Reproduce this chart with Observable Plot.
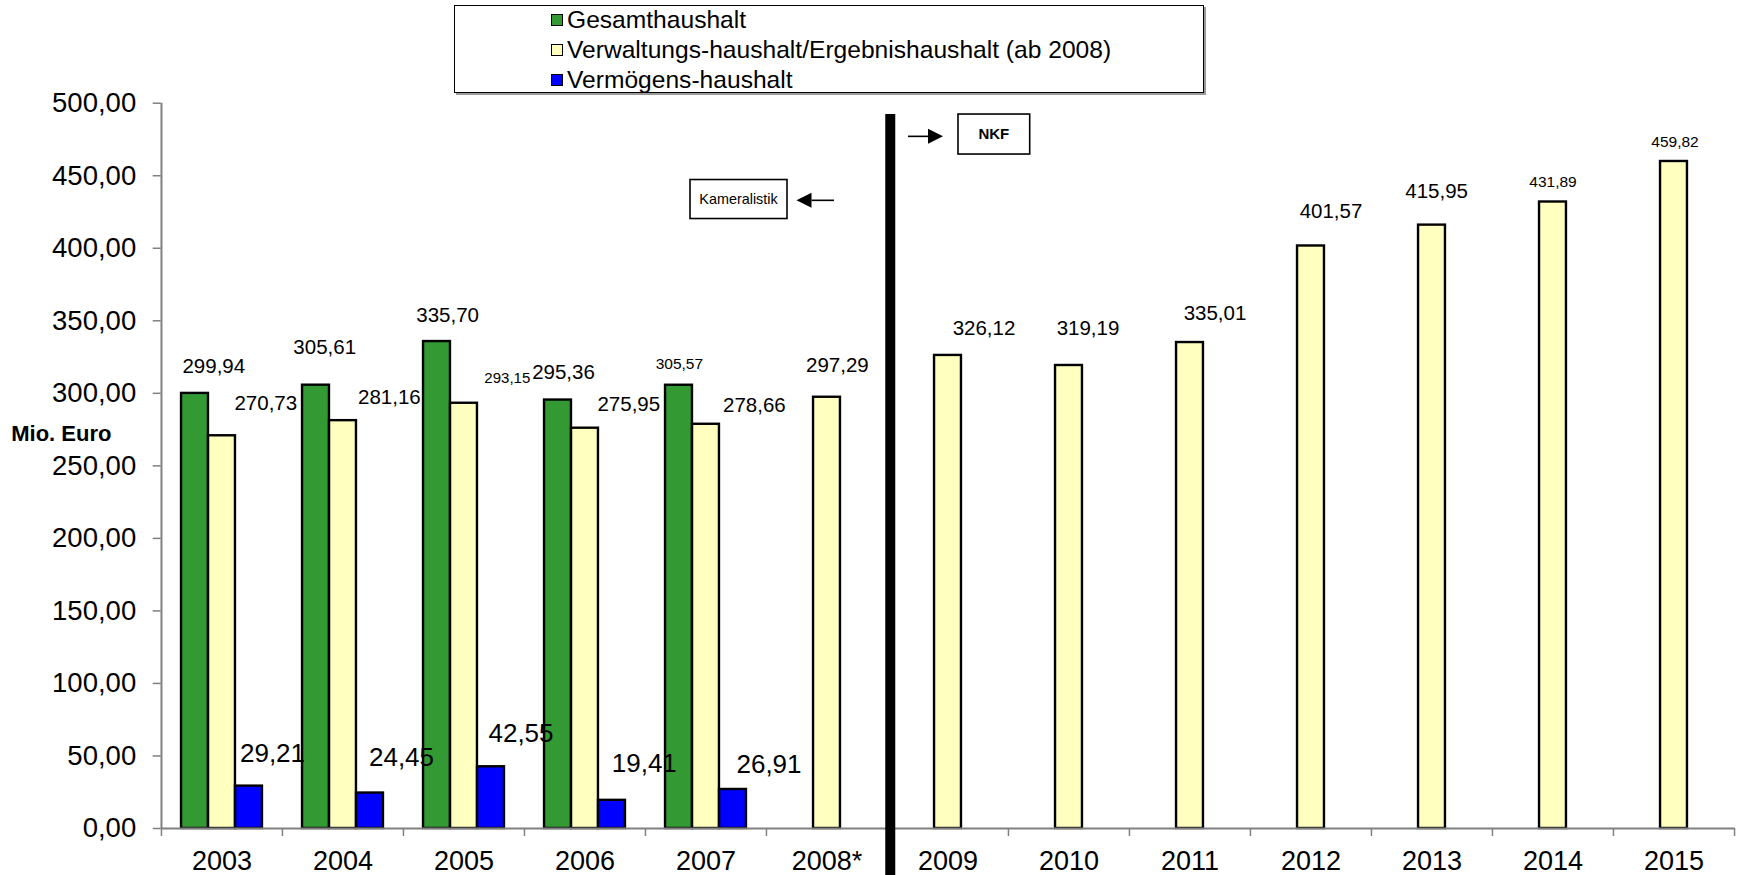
<!DOCTYPE html>
<html lang="de">
<head>
<meta charset="utf-8">
<script src="https://cdn.jsdelivr.net/npm/d3@7"></script>
<script src="https://cdn.jsdelivr.net/npm/@observablehq/plot@0.6"></script>
<style>
  html, body { margin: 0; padding: 0; background: #fff; }
  #wrap { position: relative; width: 1737px; height: 875px; font-family: "Liberation Sans", Arial, sans-serif; }
  #legend { position: absolute; left: 454px; top: 5px; width: 750px; height: 88px;
            border: 1px solid #000; background: #fff; box-shadow: 2px 2px 0 #9a9a9a; box-sizing: border-box; }
  .row { position: absolute; left: 96px; height: 28px; display: flex; align-items: center; font-size: 24.6px; white-space: nowrap; color: #000; }
  .sw { width: 10px; height: 10px; border: 1.5px solid #000; margin-right: 4px; }
</style>
</head>
<body>
<div id="wrap"></div>
<script>
// Haushaltsvolumen in Mio. Euro
const years = ["2003", "2004", "2005", "2006", "2007", "2008*", "2009", "2010", "2011", "2012", "2013", "2014", "2015"];
const seriesNames = ["Gesamthaushalt", "Verwaltungs-haushalt/Ergebnishaushalt (ab 2008)", "Vermögens-haushalt"];
const seriesColors = ["#339933", "#ffffc0", "#0000ff"];

// Gesamt- und Vermögenshaushalt gibt es nur bis 2007 (Kameralistik)
const gesamtYears = ["2003", "2004", "2005", "2006", "2007"];
const gesamt = [299.94, 305.61, 335.70, 295.36, 305.57];
const verwaltung = [270.73, 281.16, 293.15, 275.95, 278.66, 297.29, 326.12, 319.19, 335.01, 401.57, 415.95, 431.89, 459.82];
const vermoegenYears = ["2003", "2004", "2005", "2006", "2007"];
const vermoegen = [29.21, 24.45, 42.55, 19.41, 26.91];

const yTicks = d3.range(0, 501, 50);

// Frame
const W = 1737, H = 875;
const ML = 160.7, MR = 2.3, MT = 102.7, MB = 47;
const step = (W - ML - MR) / years.length;
const barW = 27;
const inset = (step - barW) / 2;
const pxPerUnit = (H - MT - MB) / 500;

const fmt = v => v.toFixed(2).replace(".", ",");

const rows = (xs, vs, s) => xs.map((x, i) => ({year: x, value: vs[i], series: s}));
const gData = rows(gesamtYears, gesamt, 0);
const vData = rows(years, verwaltung, 1);
const bData = rows(vermoegenYears, vermoegen, 2);

// Placement of the value labels: [dx from bar centre, dy from bar top, font size]
const labelPlacement = [
  [[18.8, -27.3, 20.5], [8.7, -37.4, 20.5], [10.6, -26, 20.5], [5.5, -27.8, 20.5], [0.4, -21.4, 15.5]],
  [[43.8, -32, 20.5], [46.4, -22.8, 20.5], [43.3, -25.5, 15], [43.8, -23.7, 20.5], [48.4, -18.8, 20.5],
   [10.4, -31.8, 20.5], [36, -27, 20.5], [19, -37, 20.5], [25, -29, 20.5], [20, -34.5, 20.5],
   [4.6, -34, 20.5], [0, -19.5, 15.5], [1, -19.3, 15.5]],
  [[23.5, -32.3, 26], [31.5, -35.8, 26], [30, -33, 26], [32.3, -36.5, 26], [36, -25, 26]]
];
const seriesShift = [-barW, 0, barW];

const bars = [gData, vData, bData].map((data, s) =>
  Plot.barY(data, {
    x: "year", y: "value", dx: seriesShift[s],
    insetLeft: inset, insetRight: inset,
    fill: seriesColors[s], stroke: "#000", strokeWidth: 2.4
  })
);

const labels = [gData, vData, bData].flatMap((data, s) =>
  data.map((d, i) => {
    const [dx, dy, size] = labelPlacement[s][i];
    return Plot.text([d], {
      x: "year", y: "value", text: d => fmt(d.value),
      dx: seriesShift[s] + dx, dy, fontSize: size, fill: "#000"
    });
  })
);

const axisGray = "#808080";
const tickUnits = 8 / pxPerUnit;

const plot = Plot.plot({
  width: W, height: H,
  marginLeft: ML, marginRight: MR, marginTop: MT, marginBottom: MB,
  style: {fontFamily: "'Liberation Sans', Arial, sans-serif", background: "#fff", overflow: "visible"},
  x: {type: "band", domain: years, padding: 0, axis: null},
  y: {domain: [0, 500], axis: null},
  marks: [
    ...bars,
    // axes
    Plot.ruleY([0], {stroke: axisGray, strokeWidth: 2}),
    Plot.ruleX([years[0]], {x: d => d, dx: -step / 2, y1: 0, y2: 500, stroke: axisGray, strokeWidth: 2}),
    Plot.ruleX(years, {x: d => d, dx: -step / 2, y1: 0, y2: -tickUnits, stroke: axisGray, strokeWidth: 1.5}),
    Plot.ruleX([years[years.length - 1]], {x: d => d, dx: step / 2, y1: 0, y2: -tickUnits, stroke: axisGray, strokeWidth: 1.5}),
    Plot.axisY({ticks: yTicks, tickFormat: fmt, tickSize: 8, tickPadding: 17, fontSize: 27.5,
                stroke: axisGray, strokeWidth: 1.5, fill: "#000", label: null}),
    Plot.axisX({tickSize: 0, tickPadding: 22, fontSize: 27, fill: "#000", label: null}),
    Plot.text(["Mio. Euro"], {frameAnchor: "left", y: 272.3, dx: -150, textAnchor: "start",
                              fontWeight: "bold", fontSize: 22, fill: "#000"}),
    // Umstellung Kameralistik -> NKF
    Plot.ruleX(["2009"], {x: d => d, dx: -step / 2 + 2.8, y1: 492.2, y2: -33, stroke: "#000", strokeWidth: 10}),
    ...labels
  ]
});

document.getElementById("wrap").appendChild(plot);

// Annotation boxes next to the divider, positioned from the plot's scales
const xs = plot.scale("x"), ys = plot.scale("y");
const bx = xs.apply("2009");
const svg = d3.select(plot);
const ann = svg.append("g").attr("font-family", "'Liberation Sans', Arial, sans-serif");

function box(x0, cy, w, h, label, size, weight) {
  ann.append("rect").attr("x", x0).attr("y", cy - h / 2).attr("width", w).attr("height", h)
    .attr("fill", "#fff").attr("stroke", "#000").attr("stroke-width", 1.6);
  ann.append("text").attr("x", x0 + w / 2).attr("y", cy).attr("dy", "0.35em")
    .attr("text-anchor", "middle").attr("font-size", size).attr("font-weight", weight).text(label);
}
function arrow(tail, tip, y) {
  const dir = Math.sign(tip - tail);
  const base = tip - dir * 15;
  ann.append("line").attr("x1", tail).attr("x2", base).attr("y1", y).attr("y2", y)
    .attr("stroke", "#000").attr("stroke-width", 1.6);
  ann.append("path").attr("d", `M${tip},${y}L${base},${y - 7.5}L${base},${y + 7.5}Z`).attr("fill", "#000");
}

box(bx + 71, ys.apply(478.4), 71.7, 40, "NKF", 15, "bold");
arrow(bx + 21, bx + 56, ys.apply(476.8));
box(bx - 197, ys.apply(433.6), 97, 39, "Kameralistik", 14.4, "normal");
arrow(bx - 53, bx - 90.5, ys.apply(432.7));

// Legend
const legend = d3.select("#wrap").append("div").attr("id", "legend");
const rowCenters = [14, 44, 74];
seriesNames.forEach((name, i) => {
  const r = legend.append("div").attr("class", "row").style("top", (rowCenters[i] - 14) + "px");
  r.append("div").attr("class", "sw").style("background", seriesColors[i]);
  r.append("span").text(name);
});
</script>
</body>
</html>
